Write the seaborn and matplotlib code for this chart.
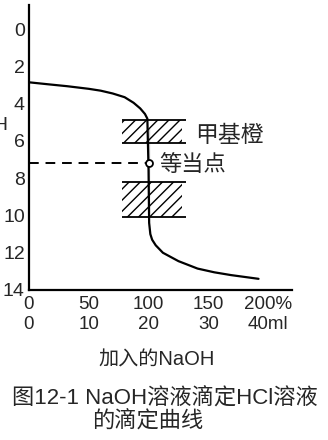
import matplotlib
matplotlib.use("Agg")
import matplotlib.pyplot as plt
import seaborn as sns
import pandas as pd

# ---- data ----
pct = [0, 15, 32, 50, 60, 70, 80, 87.5, 93, 97, 99, 100, 100, 100.5, 101.5, 103, 106, 112, 125, 141, 155, 169, 192]
ph = [2.85, 2.95, 3.06, 3.2, 3.3, 3.45, 3.65, 3.95, 4.25, 4.55, 4.8, 5.3, 9.8, 10.4, 11.0, 11.3, 11.6, 12.0, 12.45, 12.85, 13.05, 13.2, 13.4]

x_ticks = [0, 50, 100, 150, 200]
x_tick_labels = ["0\n0", "50\n10", "100\n20", "150\n30", "200%\n40ml"]
y_ticks = [0, 2, 4, 6, 8, 10, 12, 14]

methyl_orange = [4.9, 6.1]      # upper hatched band (pH)
phenol_band = [8.2, 10.1]       # lower hatched band (pH)
band_x = [78, 128]              # band extent (%)
eq_point = (100, 7.2)           # 等当点

sns.set_theme(style="white")
plt.rcParams["font.family"] = ["Liberation Sans", "Noto Sans CJK SC", "DejaVu Sans"]
plt.rcParams["hatch.linewidth"] = 1.0

fig = plt.figure(figsize=(3.28, 4.4), dpi=100)
ax = fig.add_axes([29/328, 1-290/440, (292-29)/328, (290-5)/440])

df = pd.DataFrame({"pct": pct, "ph": ph})
sns.lineplot(data=df, x="pct", y="ph", sort=False, color="black", lw=1.6, ax=ax)

for band in (methyl_orange, phenol_band):
    ax.fill_between(band_x, band[0], band[1], facecolor="none", hatch="///",
                    edgecolor="black", linewidth=0)
    ax.hlines(band, band_x[0], band_x[1] + 3, color="black", lw=1.3)

ax.plot([0, eq_point[0]], [eq_point[1], eq_point[1]], color="black", lw=1.4,
        dashes=(5, 3.5))
ax.plot([eq_point[0]], [eq_point[1]], marker="o", ms=5, mfc="white",
        mec="black", mew=1.3, zorder=5)

ax.text(139, 5.7, "甲基橙", fontsize=16.5, va="center", ha="left")
ax.text(109, 7.3, "等当点", fontsize=16, va="center", ha="left")

ax.set_xlim(0, 220)
ax.set_ylim(14, -1.3)
ax.set_xticks(x_ticks)
ax.set_xticklabels(x_tick_labels, fontsize=13.5, linespacing=1.25)
ax.set_yticks(y_ticks)
ax.set_yticklabels([str(v) for v in y_ticks], fontsize=14)
ax.tick_params(axis="both", direction="in", length=3, width=1.2, color="black")
ax.tick_params(axis="x", pad=4)
ax.tick_params(axis="y", pad=3)
ax.set_xlabel("")
ax.set_ylabel("")

for s in ["top", "right"]:
    ax.spines[s].set_visible(False)
for s in ["left", "bottom"]:
    ax.spines[s].set_color("black")
    ax.spines[s].set_linewidth(1.6)

fig.text(9/328, 1-125/440, "pH", fontsize=14, ha="right", va="center")
fig.text(157/328, 1-360/440, "加入的NaOH", fontsize=14.5, ha="center", va="center")
fig.text(12/328, 1-398/440, "图12-1 NaOH溶液滴定HCl溶液", fontsize=16, ha="left", va="center")
fig.text(92/328, 1-421/440, "的滴定曲线", fontsize=16, ha="left", va="center")

fig.savefig("out.png", dpi=100, facecolor="white")
